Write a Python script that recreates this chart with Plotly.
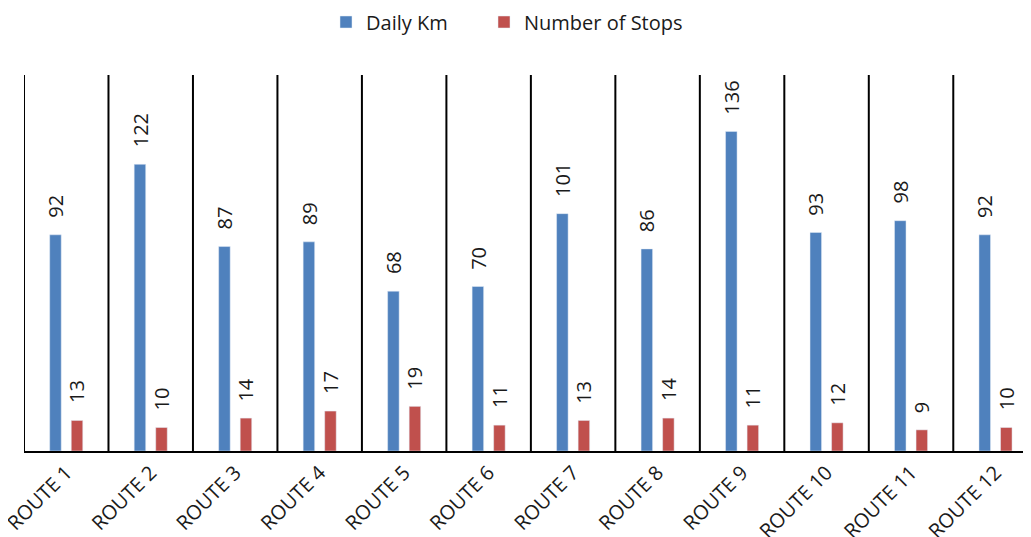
import plotly.graph_objects as go

categories = ["ROUTE 1", "ROUTE 2", "ROUTE 3", "ROUTE 4", "ROUTE 5", "ROUTE 6",
              "ROUTE 7", "ROUTE 8", "ROUTE 9", "ROUTE 10", "ROUTE 11", "ROUTE 12"]
daily_km = [92, 122, 87, 89, 68, 70, 101, 86, 136, 93, 98, 92]
stops = [13, 10, 14, 17, 19, 11, 13, 14, 11, 12, 9, 10]

BLUE = "#4f81bd"
RED = "#c0504d"
FONT = "Open Sans"
BARGAP = 0.49
GROUPGAP = 0.465
half = (1 - BARGAP) / 4
W, H = 1023, 529  # page body has an 8px margin

fig = go.Figure()
fig.add_trace(go.Bar(name="Daily Km", x=categories, y=daily_km, marker_color=BLUE,
                     legend="legend"))
fig.add_trace(go.Bar(name="Number of Stops", x=categories, y=stops, marker_color=RED,
                     legend="legend2"))

annotations = []
for i, (a, b) in enumerate(zip(daily_km, stops)):
    for val, off in ((a, -half), (b, half)):
        annotations.append(dict(x=i + off, y=val, xref="x", yref="y", text=str(val),
                                textangle=-90, showarrow=False, yanchor="bottom",
                                xanchor="center", yshift=15,
                                font=dict(family=FONT, size=20, color="#1a1a1a")))

shapes = [dict(type="line", xref="x", yref="paper", x0=i - 0.5, x1=i - 0.5, y0=0, y1=1,
               line=dict(color="black", width=2)) for i in range(len(categories))]

legend_common = dict(orientation="h", xref="container", xanchor="left",
                     yref="container", y=1 - 14 / H, yanchor="middle",
                     font=dict(family=FONT, size=20, color="#1a1a1a"))

fig.update_layout(
    width=W, height=H,
    margin=dict(l=16, r=0, t=67, b=86, autoexpand=False),
    paper_bgcolor="white", plot_bgcolor="white",
    barmode="group", bargap=BARGAP, bargroupgap=GROUPGAP,
    showlegend=True,
    legend=dict(x=318 / W, **legend_common),
    legend2=dict(x=476 / W, **legend_common),
    xaxis=dict(range=[-0.5, 11.42], tickangle=-45, showline=True, linecolor="black",
               linewidth=2, ticks="", showgrid=False, automargin=False,
               tickfont=dict(family=FONT, size=20, color="#1a1a1a")),
    yaxis=dict(range=[0, 160], visible=False, showgrid=False, automargin=False),
    annotations=annotations,
    shapes=shapes,
)

fig.write_html("out.html")
